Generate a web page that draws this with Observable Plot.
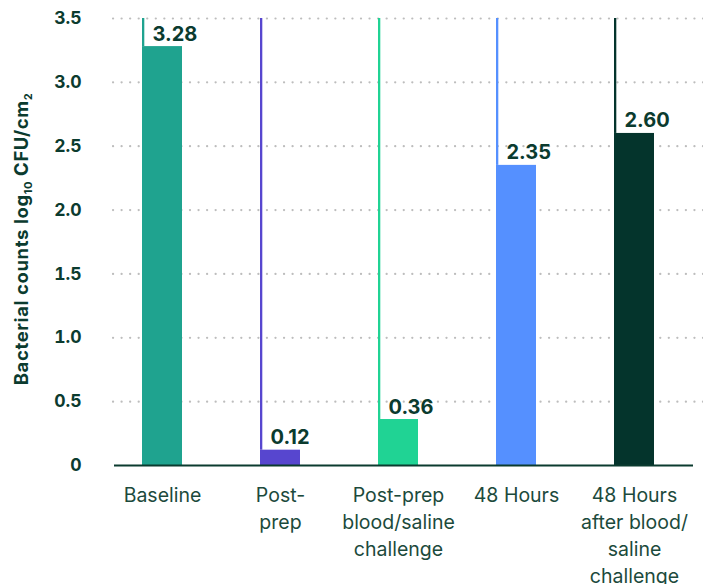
<!DOCTYPE html>
<html>
<head>
<meta charset="utf-8">
<script src="https://cdn.jsdelivr.net/npm/d3@7"></script>
<script src="https://cdn.jsdelivr.net/npm/@observablehq/plot@0.6"></script>
<style>
  html, body { margin: 0; padding: 0; background: #fff; }
  #chart svg { display: block; }
</style>
</head>
<body>
<div id="chart"></div>
<script>
const categories = [
  "Baseline",
  "Post-\nprep",
  "Post-prep\nblood/saline\nchallenge",
  "48 Hours",
  "48 Hours\nafter blood/\nsaline\nchallenge"
];
const values = [3.28, 0.12, 0.36, 2.35, 2.60];
const valueLabels = ["3.28", "0.12", "0.36", "2.35", "2.60"];
const colors = ["#1fa38f", "#5746cf", "#20d394", "#5590ff", "#04342c"];
const yTicks = [0, 0.5, 1.0, 1.5, 2.0, 2.5, 3.0, 3.5];
const yMax = 3.5;

const data = categories.map((c, i) => ({
  category: c, value: values[i], label: valueLabels[i], color: colors[i]
}));

const textColor = "#0b3b2f";

const chart = Plot.plot({
  width: 703,
  height: 584,
  marginTop: 18,
  marginBottom: 119,
  marginLeft: 101,
  marginRight: 0,
  style: { fontFamily: "Inter, 'Liberation Sans', sans-serif", background: "#fff" },
  x: { domain: categories, paddingInner: 0.663, paddingOuter: 0.33, insetRight: 9, label: null },
  y: { domain: [0, yMax], label: null },
  color: { type: "identity" },
  marks: [
    Plot.gridY(yTicks.filter(d => d > 0), {
      stroke: "#bdbdbd", strokeOpacity: 1, strokeWidth: 2.2,
      strokeDasharray: "0.1,8.45", strokeLinecap: "round", insetLeft: 12
    }),
    Plot.barY(data, {
      x: "category", y1: "value", y2: () => yMax, fill: "color", insetRight: 37.7
    }),
    Plot.barY(data, { x: "category", y: "value", fill: "color" }),
    Plot.ruleY([0], { stroke: "#0b3b2f", strokeWidth: 2.2, insetLeft: 13, insetRight: 10 }),
    Plot.text(data, {
      x: "category", y: "value", text: "label", textAnchor: "start",
      lineAnchor: "bottom", dx: -10, dy: -6, fontSize: 20, fontWeight: 700, fill: textColor
    }),
    Plot.axisY({
      ticks: yTicks, tickSize: 0, tickPadding: 20, label: null,
      tickFormat: d => d === 0 ? "0" : d.toFixed(1),
      fontSize: 17.5, fontWeight: 700, color: textColor
    }),
    Plot.axisX({
      tickSize: 0, tickPadding: 17, label: null, fontSize: 19.5, lineHeight: 1.39,
      color: "#1c4a3c"
    })
  ]
});

document.getElementById("chart").appendChild(chart);

// Y axis title with subscripts
const svg = d3.select(chart);
const t = svg.append("text")
  .attr("transform", "translate(28,239) rotate(-90)")
  .attr("text-anchor", "middle")
  .attr("font-family", "Inter, 'Liberation Sans', sans-serif")
  .attr("font-size", 18.5)
  .attr("font-weight", 700)
  .attr("letter-spacing", 0.6)
  .attr("fill", textColor);
t.append("tspan").text("Bacterial counts log");
t.append("tspan").attr("font-size", 11).attr("dy", 4).text("10");
t.append("tspan").attr("dy", -4).text(" CFU/cm");
t.append("tspan").attr("font-size", 11).attr("dy", 4).text("2");
</script>
</body>
</html>
